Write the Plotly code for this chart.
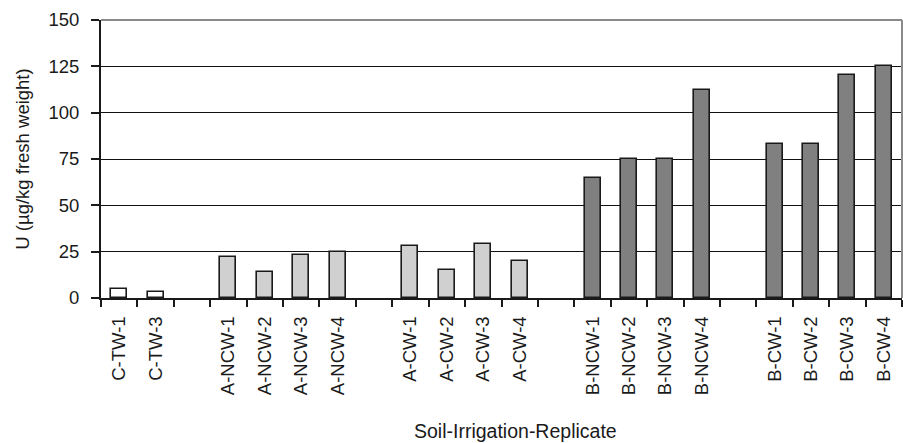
import plotly.graph_objects as go

# Uranium content per soil / irrigation / replicate
ctw_labels = ["C-TW-1", "C-TW-3"]
ctw_values = [5, 3]

ancw_labels = ["A-NCW-1", "A-NCW-2", "A-NCW-3", "A-NCW-4"]
ancw_values = [22, 14, 23, 25]

acw_labels = ["A-CW-1", "A-CW-2", "A-CW-3", "A-CW-4"]
acw_values = [28, 15, 29, 20]

bncw_labels = ["B-NCW-1", "B-NCW-2", "B-NCW-3", "B-NCW-4"]
bncw_values = [65, 75, 75, 112]

bcw_labels = ["B-CW-1", "B-CW-2", "B-CW-3", "B-CW-4"]
bcw_values = [83, 83, 120.5, 125]

y_ticks = [0, 25, 50, 75, 100, 125, 150]

# blank slots separating the groups on the category axis
category_order = (ctw_labels + [" "] + ancw_labels + ["  "] + acw_labels
                  + ["   "] + bncw_labels + ["    "] + bcw_labels)

font_family = "Liberation Sans, Arial, sans-serif"

fig = go.Figure()
groups = [
    (ctw_labels, ctw_values, "#ffffff"),
    (ancw_labels, ancw_values, "#d0d0d0"),
    (acw_labels, acw_values, "#d0d0d0"),
    (bncw_labels, bncw_values, "#808080"),
    (bcw_labels, bcw_values, "#808080"),
]
for labels, values, color in groups:
    fig.add_trace(go.Bar(
        x=labels, y=values, width=0.44,
        marker=dict(color=color, line=dict(color="#1a1a1a", width=1.6)),
        showlegend=False,
    ))

fig.update_layout(
    width=903, height=443,
    margin=dict(l=101, r=1, t=20, b=145),
    paper_bgcolor="white", plot_bgcolor="white",
    font=dict(family=font_family, size=18.5, color="#1a1a1a"),
    bargap=0,
    xaxis=dict(
        type="category", categoryorder="array", categoryarray=category_order,
        tickson="boundaries", ticks="outside", ticklen=7, tickwidth=1.5,
        tickcolor="#1a1a1a", tickangle=-90, showgrid=False,
        showline=True, linecolor="#1a1a1a", linewidth=2,
        ticklabelstandoff=9,
        tickfont=dict(size=18.5), range=[-0.5, len(category_order) - 0.5],
    ),
    yaxis=dict(
        range=[0, 150], tickvals=y_ticks, ticks="outside", ticklen=8,
        tickwidth=1.5, tickcolor="#1a1a1a",
        showline=True, linecolor="#1a1a1a", linewidth=2,
        showgrid=True, gridcolor="#111111", gridwidth=1,
        zeroline=False, ticklabelstandoff=8,
        tickfont=dict(size=18.5),
        title=dict(text="U (µg/kg fresh weight)", font=dict(size=18.5), standoff=14),
    ),
    shapes=[
        dict(type="line", xref="paper", yref="paper", x0=0, x1=1, y0=1, y1=1,
             line=dict(color="#8a8a8a", width=2)),
        dict(type="line", xref="paper", yref="paper", x0=1, x1=1, y0=0, y1=1,
             line=dict(color="#8a8a8a", width=2)),
    ],
    annotations=[
        dict(text="Soil-Irrigation-Replicate", xref="paper", yref="paper",
             x=0.518, y=-0.478, xanchor="center", yanchor="middle",
             showarrow=False, font=dict(size=19.5)),
    ],
)

fig.write_html("out.html")
